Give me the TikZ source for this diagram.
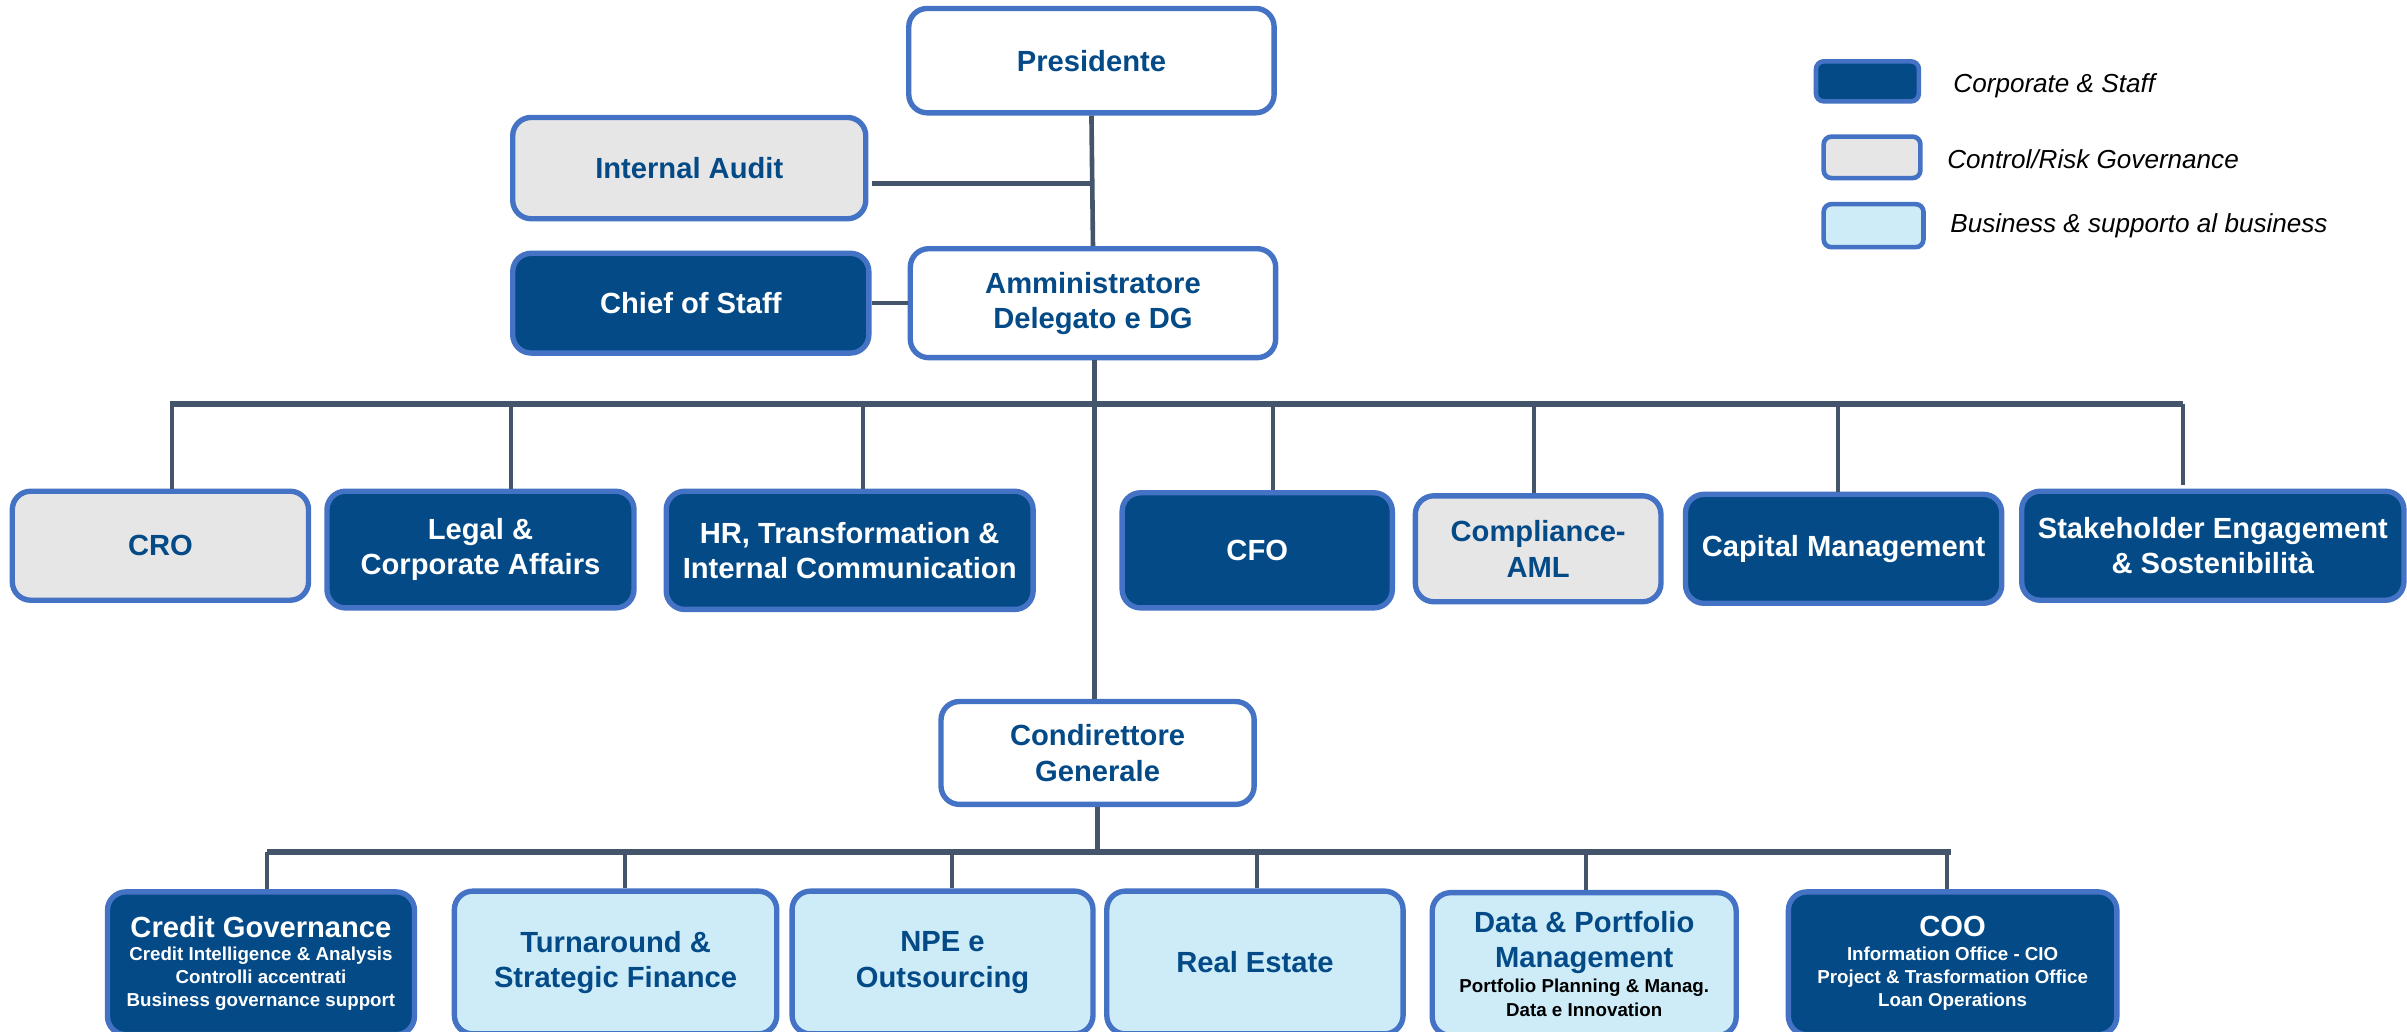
\documentclass[tikz,border=0pt]{standalone}
\usepackage{fontspec}
\setmainfont{Liberation Sans}
\definecolor{darkfill}{RGB}{3,74,135}
\definecolor{bordercol}{RGB}{68,114,196}
\definecolor{greyfill}{RGB}{231,230,230}
\definecolor{lightfill}{RGB}{205,236,248}
\definecolor{txtblue}{RGB}{3,74,135}
\definecolor{linecol}{RGB}{68,84,106}
\newcommand\subtxt{\bfseries\fontsize{12.2}{15}\selectfont}
\tikzset{
  box/.style={rectangle, rounded corners=12pt, line width=3.5pt, draw=bordercol, align=center,
    inner sep=0pt, font=\bfseries\fontsize{19}{23}\selectfont},
  whitebox/.style={box, fill=white, text=txtblue},
  greybox/.style={box, fill=greyfill, text=txtblue},
  darkbox/.style={box, fill=darkfill, text=white},
  lightbox/.style={box, fill=lightfill, text=txtblue},
  legbox/.style={rectangle, rounded corners=5pt, line width=3pt, draw=bordercol, inner sep=0pt},
  legtext/.style={anchor=west, font=\itshape\fontsize{17}{20}\selectfont, text=black},
  conn/.style={draw=linecol, line width=3pt},
  busline/.style={draw=linecol, line width=4pt},
  drop/.style={draw=linecol, line width=2.6pt},
}
\begin{document}
\begin{tikzpicture}[x=1pt,y=-1pt]
\useasboundingbox (0,0) rectangle (1568,672);
\begin{scope}
\clip (0,0) rectangle (1568,672);
% top
\node[whitebox, minimum width=238pt, minimum height=68pt] (pres) at (711,39.5) {Presidente};
\node[greybox, minimum width=230pt, minimum height=66pt] (ia) at (449,109.5) {Internal Audit};
\node[darkbox, minimum width=232pt, minimum height=65pt] (cos) at (450,197.5) {Chief of Staff};
\node[whitebox, minimum width=238pt, minimum height=71pt] (ad) at (712,197.5) {Amministratore\\Delegato e DG};
% middle row
\node[greybox, minimum width=193pt, minimum height=71pt] (cro) at (104.5,355.5) {CRO};
\node[darkbox, minimum width=200pt, minimum height=76pt] (legal) at (313,358) {Legal \&\\Corporate Affairs};
\node[darkbox, minimum width=239pt, minimum height=77pt] (hr) at (553.5,358.5) {HR, Transformation \&\\Internal Communication};
\node[darkbox, minimum width=176pt, minimum height=75pt] (cfo) at (819,358.5) {CFO};
\node[greybox, minimum width=160pt, minimum height=69pt] (comp) at (1002,357.5) {Compliance-\\AML};
\node[darkbox, minimum width=206pt, minimum height=71pt] (cap) at (1201,357.5) {Capital Management};
\node[darkbox, minimum width=249pt, minimum height=71pt] (stake) at (1441.5,355.5) {Stakeholder Engagement\\\& Sostenibilit\`a};
% condirettore
\node[whitebox, minimum width=204pt, minimum height=67pt] (cond) at (715,490.5) {Condirettore\\Generale};
% bottom row
\node[darkbox, minimum width=200pt, minimum height=93pt] (cg) at (170,627.5) {Credit Governance\\[-8pt]
  {\subtxt Credit Intelligence \& Analysis}\\[-8pt]{\subtxt Controlli accentrati}\\[-8pt]{\subtxt Business governance support}};
\node[lightbox, minimum width=210pt, minimum height=93pt] (ta) at (401,627) {Turnaround \&\\Strategic Finance};
\node[lightbox, minimum width=196pt, minimum height=93pt] (npe) at (614,627) {NPE e\\Outsourcing};
\node[lightbox, minimum width=193pt, minimum height=93pt] (re) at (817.5,627) {Real Estate};
\node[lightbox, minimum width=198pt, minimum height=93pt] (dpm) at (1032,628) {Data \& Portfolio\\Management\\[-7pt]
  {\subtxt\color{black} Portfolio Planning \& Manag.}\\[-7pt]{\subtxt\color{black} Data e Innovation}};
\node[darkbox, minimum width=214pt, minimum height=93pt] (coo) at (1272,627.5) {COO\\[-8pt]
  {\subtxt Information Office - CIO}\\[-8pt]{\subtxt Project \& Trasformation Office}\\[-8pt]{\subtxt Loan Operations}};
\end{scope}
% legend
\node[legbox, fill=darkfill, minimum width=67pt, minimum height=26pt] (lg1) at (1216.5,53) {};
\node[legbox, fill=greyfill, minimum width=63pt, minimum height=27pt] (lg2) at (1219.5,102.5) {};
\node[legbox, fill=lightfill, minimum width=65pt, minimum height=28pt] (lg3) at (1220.5,147) {};
\node[legtext] (lt1) at (1269,56) {Corporate \& Staff};
\node[legtext] (lt2) at (1265,103.5) {Control/Risk Governance};
\node[legtext] (lt3) at (1267,147) {Business \& supporto al business};
% connectors top
\draw[conn] (pres.south) -- (ad.north);
\path ([yshift=-10pt]ia.east) coordinate (iaR);
\draw[conn] ([xshift=2pt]iaR) -- (iaR -| pres.south);
\draw[conn] (cos.east) -- (ad.west);
\draw[conn] ([xshift=1pt]ad.south) -- ([xshift=1pt]ad.south |- cond.north);
% upper bus
\coordinate (b1) at (111,263);
\coordinate (b2) at (1422,263);
\draw[busline] (b1) -- (b2);
\coordinate (d1) at (112,263);
\coordinate (d2) at (333,263);
\coordinate (d3) at (562,263);
\coordinate (d4) at (829,263);
\coordinate (d5) at (999,263);
\coordinate (d6) at (1197,263);
\coordinate (d7) at (1422,263);
\coordinate (d7e) at (1422,316);
\draw[drop] (d1) -- (d1 |- cro.north);
\draw[drop] (d2) -- (d2 |- legal.north);
\draw[drop] (d3) -- (d3 |- hr.north);
\draw[drop] (d4) -- (d4 |- cfo.north);
\draw[drop] (d5) -- (d5 |- comp.north);
\draw[drop] (d6) -- (d6 |- cap.north);
\draw[drop] (d7) -- (d7e);
% lower bus
\coordinate (c1) at (174,555);
\coordinate (c2) at (1271,555);
\draw[conn] (cond.south) -- (cond.south |- c1);
\draw[busline] (c1) -- (c2);
\coordinate (e1) at (174,555);
\coordinate (e2) at (407,555);
\coordinate (e3) at (620,555);
\coordinate (e4) at (819,555);
\coordinate (e5) at (1033,555);
\coordinate (e6) at (1268,555);
\draw[drop] (e1) -- (e1 |- cg.north);
\draw[drop] (e2) -- (e2 |- ta.north);
\draw[drop] (e3) -- (e3 |- npe.north);
\draw[drop] (e4) -- (e4 |- re.north);
\draw[drop] (e5) -- (e5 |- dpm.north);
\draw[drop] (e6) -- (e6 |- coo.north);
\end{tikzpicture}
\end{document}
